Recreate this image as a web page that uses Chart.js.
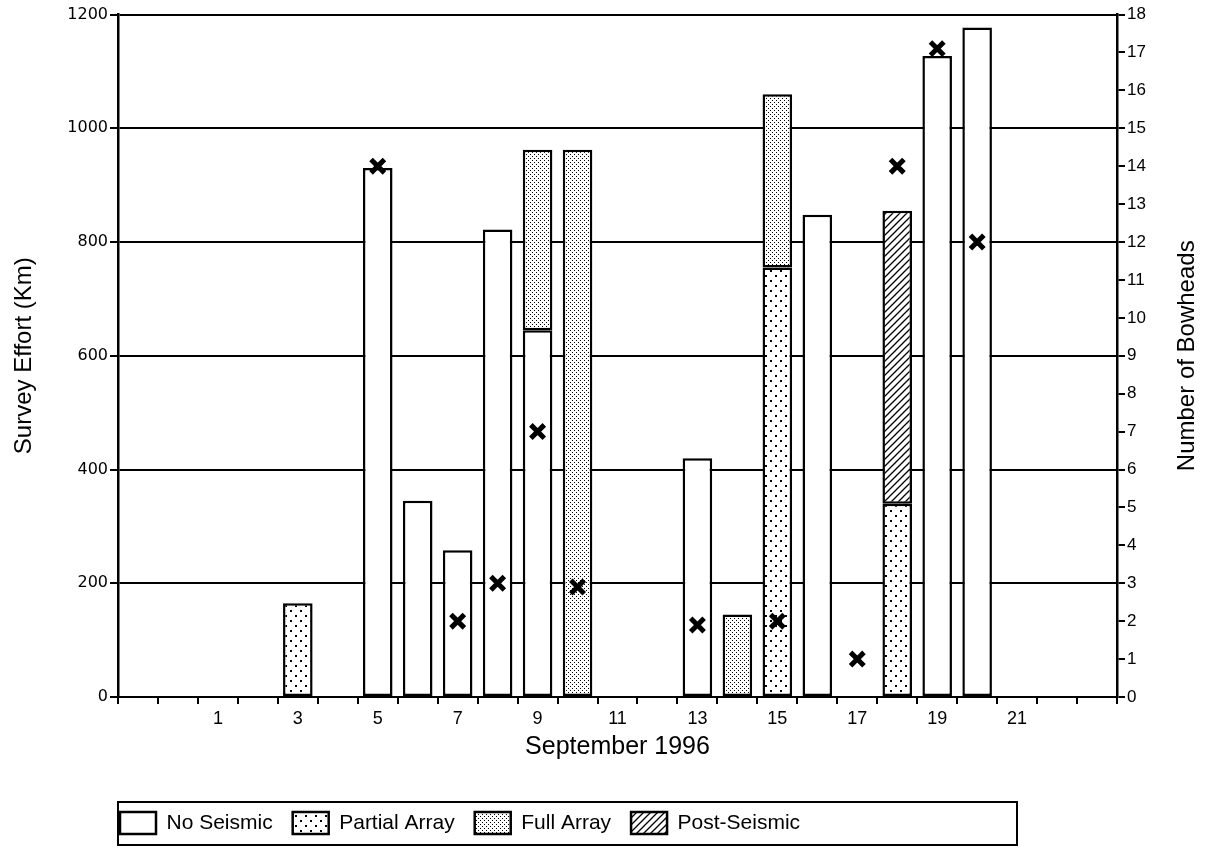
<!DOCTYPE html>
<html>
<head>
<meta charset="utf-8">
<script src="https://cdn.jsdelivr.net/npm/chart.js@4.4.1/dist/chart.umd.min.js"></script>
<style>
  html, body { margin: 0; padding: 0; background: #fff; }
  #wrap { width: 1207px; height: 858px; }
</style>
</head>
<body>
<div id="wrap"><canvas id="effortChart" width="1207" height="858"></canvas></div>
<script>
// days of September 1996 (cells -1 and 23 are empty padding at the ends)
const days = ['-1', '0', '1', '2', '3', '4', '5', '6', '7', '8', '9', '10', '11', '12',
  '13', '14', '15', '16', '17', '18', '19', '20', '21', '22', '23'];
const dayTickLabels = ['1', '3', '5', '7', '9', '11', '13', '15', '17', '19', '21'];

// survey effort (km) per seismic state, stacked
const noSeismic = [null, null, null, null, null, null, 930, 345, 258, 822, 645, null, null, null,
  420, null, null, 848, null, null, 1127, 1177, null, null, null];
const partialArray = [null, null, null, null, 165, null, null, null, null, null, null, null, null, null,
  null, null, 755, null, null, 340, null, null, null, null, null];
const fullArray = [null, null, null, null, null, null, null, null, null, null, 317, 962, null, null,
  null, 145, 305, null, null, null, null, null, null, null, null];
const postSeismic = [null, null, null, null, null, null, null, null, null, null, null, null, null, null,
  null, null, null, null, null, 515, null, null, null, null, null];

// number of bowheads seen (right axis)
const bowheads = [null, null, null, null, null, null, 14, null, 2, 3, 7, 2.9, null, null,
  1.9, null, 2, null, 1, 14, 17.1, 12, null, null, null];

const leftTicks = [0, 200, 400, 600, 800, 1000, 1200];
const rightTitle = 'Number of Bowheads';

// fill patterns like the printed figure
function dotPattern(step, size) {
  const c = document.createElement('canvas');
  c.width = c.height = step * 2;
  const g = c.getContext('2d');
  g.fillStyle = '#fff';
  g.fillRect(0, 0, c.width, c.height);
  g.fillStyle = '#000';
  g.fillRect(0, 0, size, size);
  g.fillRect(step, step, size, size);
  return g.createPattern(c, 'repeat');
}

function hatchPattern(step) {
  const c = document.createElement('canvas');
  c.width = c.height = step;
  const g = c.getContext('2d');
  g.fillStyle = '#fff';
  g.fillRect(0, 0, step, step);
  g.strokeStyle = '#000';
  g.lineWidth = 1.3;
  g.beginPath();
  g.moveTo(-1, step + 1);
  g.lineTo(step + 1, -1);
  g.moveTo(-1, 1);
  g.lineTo(1, -1);
  g.moveTo(step - 1, step + 1);
  g.lineTo(step + 1, step - 1);
  g.stroke();
  return g.createPattern(c, 'repeat');
}

// frame round the legend and the right hand title, drawn by hand
const extras = {
  id: 'extras',
  afterLayout(chart) {
    // push the legend row to start under the plot
    chart.legend.left = chart.chartArea.left - 18;
  },
  afterDraw(chart) {
    const ctx = chart.ctx;
    const area = chart.chartArea;
    const items = chart.legend.legendHitBoxes;
    if (items && items.length) {
      const cy = items[0].top + items[0].height / 2;
      ctx.save();
      ctx.strokeStyle = '#000';
      ctx.lineWidth = 2;
      ctx.strokeRect(area.left, cy - 21, 899, 43);
      ctx.restore();
    }
    ctx.save();
    ctx.translate(1187, (area.top + area.bottom) / 2);
    ctx.rotate(-Math.PI / 2);
    ctx.font = '24px "Liberation Sans", Arial, sans-serif';
    ctx.fillStyle = '#000';
    ctx.textAlign = 'center';
    ctx.textBaseline = 'middle';
    ctx.fillText(rightTitle, 0, 0);
    ctx.restore();
  }
};

const barStyle = {
  borderColor: '#000',
  borderWidth: 2.5,
  borderSkipped: false,
  barPercentage: 0.74,
  categoryPercentage: 1,
  order: 1,
};

const ctx = document.getElementById('effortChart').getContext('2d');
const effortChart = new Chart(ctx, {
  type: 'bar',
  data: {
    labels: days,
    datasets: [
      {
        type: 'line',
        label: 'Bowheads',
        data: bowheads,
        yAxisID: 'y1',
        showLine: false,
        pointStyle: 'crossRot',
        pointRadius: 9.5,
        pointBorderWidth: 5,
        pointBorderColor: '#000',
        pointBackgroundColor: '#000',
        order: 0,
      },
      { label: 'No Seismic', data: noSeismic, backgroundColor: '#fff', ...barStyle },
      { label: 'Partial Array', data: partialArray, backgroundColor: dotPattern(5, 2), ...barStyle },
      { label: 'Full Array', data: fullArray, backgroundColor: dotPattern(2, 1), ...barStyle },
      { label: 'Post-Seismic', data: postSeismic, backgroundColor: hatchPattern(7), ...barStyle },
    ],
  },
  options: {
    responsive: false,
    animation: false,
    devicePixelRatio: 1,
    layout: { padding: { left: 10, right: 0, top: 12, bottom: 14 } },
    plugins: {
      tooltip: { enabled: false },
      legend: {
        position: 'bottom',
        align: 'start',
        labels: {
          boxWidth: 36,
          boxHeight: 22,
          padding: 20,
          color: '#000',
          font: { family: '"Liberation Sans", Arial, sans-serif', size: 21 },
          filter: (item) => item.text !== 'Bowheads',
        },
      },
    },
    scales: {
      x: {
        stacked: true,
        offset: true,
        grid: { offset: true, drawOnChartArea: false, tickLength: 7, color: '#000', lineWidth: 2 },
        border: { display: true, color: '#000', width: 2 },
        ticks: {
          autoSkip: false,
          maxRotation: 0,
          color: '#000',
          font: { family: '"Liberation Sans", Arial, sans-serif', size: 18 },
          padding: 4,
          callback: (value, index) => dayTickLabels.includes(days[index]) ? days[index] : '',
        },
        title: {
          display: true,
          text: 'September 1996',
          color: '#000',
          font: { family: '"Liberation Sans", Arial, sans-serif', size: 25 },
          padding: { top: 0, bottom: 30 },
        },
        afterFit: (scale) => { scale.height = 95; },
      },
      y: {
        stacked: true,
        position: 'left',
        min: 0,
        max: 1200,
        afterBuildTicks: (scale) => { scale.ticks = leftTicks.map(v => ({ value: v })); },
        grid: { color: '#000', lineWidth: 2, tickLength: 8 },
        border: { display: true, color: '#000', width: 2.5 },
        ticks: {
          color: '#000',
          padding: 2,
          font: { family: '"DejaVu Sans", sans-serif', size: 16 },
          callback: (value) => String(value),
        },
        title: {
          display: true,
          text: 'Survey Effort (Km)',
          color: '#000',
          font: { family: '"Liberation Sans", Arial, sans-serif', size: 24 },
          padding: { top: 0, bottom: 0 },
        },
        afterFit: (scale) => { scale.width = 108; },
      },
      y1: {
        position: 'right',
        min: 0,
        max: 18,
        ticks: {
          stepSize: 1,
          color: '#000',
          padding: 2,
          font: { family: '"Liberation Sans", Arial, sans-serif', size: 17 },
        },
        grid: { drawOnChartArea: false, color: '#000', lineWidth: 2, tickLength: 8 },
        border: { display: true, color: '#000', width: 2.5 },
        afterFit: (scale) => { scale.width = 90; },
      },
    },
  },
  plugins: [extras],
});
</script>
</body>
</html>
